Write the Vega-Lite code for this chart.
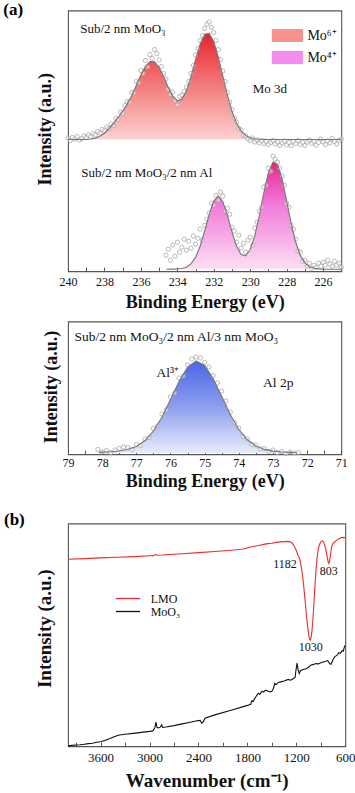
{
  "$schema": "https://vega.github.io/schema/vega-lite/v6.json",
  "autosize": {"type": "pad"},
  "padding": {"left": 2, "top": 0.5, "right": 0, "bottom": 0},
  "config": {
    "font": "Liberation Serif",
    "view": {"stroke": "#555555", "strokeWidth": 1.1},
    "axis": {"grid": false, "domain": false, "tickColor": "#555555", "labelColor": "#111111", "titleColor": "#111111", "labelFont": "Liberation Serif", "titleFont": "Liberation Serif", "titleFontWeight": "bold", "labelOverlap": false, "labelFlush": false},
    "legend": {"labelFont": "Liberation Serif", "labelColor": "#111111"}
  },
  "datasets": {
    "moTop": [
      {"be":240,"v":0},{"be":239,"v":0},{"be":238.75,"v":0.5},{"be":238.5,"v":1.4},{"be":238.25,"v":3.2},{"be":238,"v":6.3},{"be":237.75,"v":10.8},{"be":237.5,"v":16.2},{"be":237.25,"v":22.2},{"be":237,"v":28.2},{"be":236.75,"v":35.4},{"be":236.5,"v":43.9},{"be":236.25,"v":54.0},{"be":236,"v":64.5},{"be":235.75,"v":73.1},{"be":235.5,"v":77.9},{"be":235.25,"v":77.6},{"be":235,"v":72.2},{"be":234.75,"v":62.9},{"be":234.5,"v":52.3},{"be":234.25,"v":43.4},{"be":234,"v":38.7},{"be":233.75,"v":40.3},{"be":233.5,"v":48.7},{"be":233.25,"v":62.8},{"be":233,"v":79.8},{"be":232.75,"v":95.4},{"be":232.5,"v":105.2},{"be":232.25,"v":106.2},{"be":232,"v":97.9},{"be":231.75,"v":82.3},{"be":231.5,"v":63.1},{"be":231.25,"v":44.1},{"be":231,"v":28.1},{"be":230.75,"v":16.3},{"be":230.5,"v":8.6},{"be":230.25,"v":4.1},{"be":230,"v":1.8},{"be":229.75,"v":0.7},{"be":229.5,"v":0.3},{"be":229.25,"v":0.1},{"be":229,"v":0},{"be":225,"v":0}
    ],
    "moTopPts": [
      {"be":240,"v":1.5},{"be":239.875,"v":-1},{"be":239.75,"v":2},{"be":239.625,"v":0.5},{"be":239.5,"v":3},{"be":239.375,"v":-0.5},{"be":239.25,"v":1},{"be":239.125,"v":3.5},{"be":239,"v":2},{"be":238.875,"v":4.5},{"be":238.75,"v":3},{"be":238.625,"v":6},{"be":238.5,"v":4.5},{"be":238.375,"v":8},{"be":238.25,"v":6.5},{"be":238.125,"v":10},{"be":238,"v":9},{"be":237.875,"v":12.5},{"be":237.75,"v":11},{"be":237.625,"v":15.5},{"be":237.5,"v":14},{"be":237.375,"v":21},{"be":237.25,"v":20},{"be":237.125,"v":27.5},{"be":237,"v":26},{"be":236.875,"v":34},{"be":236.75,"v":38},{"be":236.625,"v":37.5},{"be":236.5,"v":47},{"be":236.375,"v":46.5},{"be":236.25,"v":58},{"be":236.125,"v":57},{"be":236,"v":69},{"be":235.875,"v":66},{"be":235.75,"v":79},{"be":235.625,"v":72.5},{"be":235.5,"v":85},{"be":235.375,"v":81},{"be":235.25,"v":90},{"be":235.125,"v":86},{"be":235,"v":79.5},{"be":234.875,"v":73},{"be":234.75,"v":66},{"be":234.625,"v":60.5},{"be":234.5,"v":50},{"be":234.375,"v":45},{"be":234.25,"v":47.5},{"be":234.125,"v":39},{"be":234,"v":34.5},{"be":233.875,"v":43},{"be":233.75,"v":44.5},{"be":233.625,"v":48},{"be":233.5,"v":52.5},{"be":233.375,"v":58},{"be":233.25,"v":66},{"be":233.125,"v":74},{"be":233,"v":84.5},{"be":232.875,"v":91},{"be":232.75,"v":99},{"be":232.625,"v":104},{"be":232.5,"v":111},{"be":232.375,"v":115.5},{"be":232.25,"v":117.5},{"be":232.125,"v":112},{"be":232,"v":107},{"be":231.875,"v":99},{"be":231.75,"v":90},{"be":231.625,"v":80},{"be":231.5,"v":68.5},{"be":231.375,"v":58},{"be":231.25,"v":47},{"be":231.125,"v":37.5},{"be":231,"v":30},{"be":230.875,"v":21.5},{"be":230.75,"v":17.5},{"be":230.625,"v":11},{"be":230.5,"v":9.5},{"be":230.375,"v":4},{"be":230.25,"v":3.5},{"be":230.125,"v":0.5},{"be":230,"v":-1},{"be":229.875,"v":1.5},{"be":229.75,"v":-2.5},{"be":229.625,"v":-0.5},{"be":229.5,"v":-3.5},{"be":229.375,"v":-1.5},{"be":229.25,"v":-4},{"be":229.125,"v":-2},{"be":229,"v":-5},{"be":228.875,"v":-3},{"be":228.75,"v":-1},{"be":228.625,"v":-4.5},{"be":228.5,"v":-2.5},{"be":228.375,"v":-6},{"be":228.25,"v":-3.5},{"be":228.125,"v":-1.5},{"be":228,"v":-5.5},{"be":227.875,"v":-3},{"be":227.75,"v":-6.5},{"be":227.625,"v":-2},{"be":227.5,"v":-4},{"be":227.375,"v":-1},{"be":227.25,"v":-5},{"be":227.125,"v":-3},{"be":227,"v":-6},{"be":226.875,"v":-2.5},{"be":226.75,"v":-0.5},{"be":226.625,"v":-4},{"be":226.5,"v":-2},{"be":226.375,"v":-5.5},{"be":226.25,"v":-3},{"be":226.125,"v":0.5},{"be":226,"v":-2.5},{"be":225.875,"v":-5},{"be":225.75,"v":-1.5},{"be":225.625,"v":-3.5},{"be":225.5,"v":1},{"be":225.375,"v":-2},{"be":225.25,"v":-4.5},{"be":225.125,"v":-1},{"be":225,"v":0.5}
    ],
    "moBot": [
      {"be":234.6,"v":0},{"be":234.25,"v":0.1},{"be":234,"v":0.2},{"be":233.75,"v":0.7},{"be":233.5,"v":2.0},{"be":233.25,"v":5.3},{"be":233,"v":11.8},{"be":232.75,"v":22.9},{"be":232.5,"v":38.2},{"be":232.25,"v":54.9},{"be":232,"v":68.2},{"be":231.75,"v":73.0},{"be":231.5,"v":67.4},{"be":231.25,"v":53.8},{"be":231,"v":37.3},{"be":230.75,"v":23.1},{"be":230.5,"v":14.7},{"be":230.25,"v":13.4},{"be":230,"v":19.7},{"be":229.75,"v":33.4},{"be":229.5,"v":53.7},{"be":229.25,"v":76.6},{"be":229,"v":96.6},{"be":228.75,"v":107.3},{"be":228.5,"v":104.9},{"be":228.25,"v":90.2},{"be":228,"v":68.3},{"be":227.75,"v":45.5},{"be":227.5,"v":26.7},{"be":227.25,"v":13.8},{"be":227,"v":6.3},{"be":226.75,"v":2.5},{"be":226.5,"v":0.9},{"be":226.25,"v":0.3},{"be":226,"v":0.1},{"be":225,"v":0}
    ],
    "moBotPts": [
      {"be":234.625,"v":14},{"be":234.5,"v":20},{"be":234.375,"v":9},{"be":234.25,"v":24},{"be":234.125,"v":13},{"be":234,"v":27},{"be":233.875,"v":17},{"be":233.75,"v":22},{"be":233.625,"v":30},{"be":233.5,"v":19},{"be":233.375,"v":28},{"be":233.25,"v":21},{"be":233.125,"v":33},{"be":233,"v":25},{"be":232.875,"v":31},{"be":232.75,"v":40},{"be":232.625,"v":29},{"be":232.5,"v":44},{"be":232.375,"v":50},{"be":232.25,"v":56},{"be":232.125,"v":66},{"be":232,"v":64},{"be":231.875,"v":74},{"be":231.75,"v":69},{"be":231.625,"v":77},{"be":231.5,"v":73},{"be":231.375,"v":58},{"be":231.25,"v":61},{"be":231.125,"v":55},{"be":231,"v":42},{"be":230.875,"v":38},{"be":230.75,"v":27},{"be":230.625,"v":34},{"be":230.5,"v":21},{"be":230.375,"v":26},{"be":230.25,"v":17},{"be":230.125,"v":29},{"be":230,"v":32},{"be":229.875,"v":24},{"be":229.75,"v":41},{"be":229.625,"v":47},{"be":229.5,"v":58},{"be":229.375,"v":62},{"be":229.25,"v":82},{"be":229.125,"v":84},{"be":229,"v":101},{"be":228.875,"v":98},{"be":228.75,"v":113},{"be":228.625,"v":110},{"be":228.5,"v":107},{"be":228.375,"v":101},{"be":228.25,"v":93},{"be":228.125,"v":84},{"be":228,"v":66},{"be":227.875,"v":62},{"be":227.75,"v":44},{"be":227.625,"v":40},{"be":227.5,"v":30},{"be":227.375,"v":18},{"be":227.25,"v":17},{"be":227.125,"v":8},{"be":227,"v":9},{"be":226.875,"v":3},{"be":226.75,"v":6},{"be":226.625,"v":1},{"be":226.5,"v":4},{"be":226.375,"v":2},{"be":226.25,"v":6},{"be":226.125,"v":3},{"be":226,"v":7},{"be":225.875,"v":4},{"be":225.75,"v":9},{"be":225.625,"v":5},{"be":225.5,"v":3},{"be":225.375,"v":8},{"be":225.25,"v":4},{"be":225.125,"v":6},{"be":225,"v":2}
    ],
    "moTopTxt": [
      {"be":239.33,"v":110.3,"label":"Sub/2 nm MoO₃"},
      {"be":229.86,"v":50.3,"label":"Mo 3d"}
    ],
    "moBotTxt": [
      {"be":239.27,"v":96.3,"label":"Sub/2 nm MoO₃/2 nm Al"}
    ],
    "panelA": [
      {"be":243.55,"v":254,"label":"(a)"}
    ],
    "yTitleA": [
      {"be":241.19,"v":140,"label":"Intensity (a.u.)"}
    ],
    "moLegend": [
      {"comp":"Mo⁶⁺"},{"comp":"Mo⁴⁺"}
    ],
    "al": [
      {"be":78.1,"v":0.6},{"be":77.75,"v":1.2},{"be":77.5,"v":2.0},{"be":77.25,"v":3.5},{"be":77,"v":6.5},{"be":76.75,"v":12.2},{"be":76.5,"v":21.8},{"be":76.25,"v":35.8},{"be":76,"v":53.4},{"be":75.75,"v":71.6},{"be":75.5,"v":85.8},{"be":75.25,"v":92},{"be":75,"v":87.5},{"be":74.75,"v":74.3},{"be":74.5,"v":56.5},{"be":74.25,"v":38.4},{"be":74,"v":23.5},{"be":73.75,"v":13.2},{"be":73.5,"v":7},{"be":73.25,"v":3.6},{"be":73,"v":1.9},{"be":72.75,"v":1},{"be":72.5,"v":0.6},{"be":72.3,"v":0.3}
    ],
    "alPts": [
      {"be":78.125,"v":3.5},{"be":78,"v":1},{"be":77.875,"v":2.5},{"be":77.75,"v":0.5},{"be":77.625,"v":3},{"be":77.5,"v":4.5},{"be":77.375,"v":6},{"be":77.25,"v":5.5},{"be":77.125,"v":3.5},{"be":77,"v":8.5},{"be":76.875,"v":7.5},{"be":76.75,"v":14},{"be":76.625,"v":15.5},{"be":76.5,"v":24.5},{"be":76.375,"v":27},{"be":76.25,"v":39},{"be":76.125,"v":43},{"be":76,"v":56},{"be":75.875,"v":60},{"be":75.75,"v":75},{"be":75.625,"v":77},{"be":75.5,"v":88},{"be":75.375,"v":94},{"be":75.25,"v":96},{"be":75.125,"v":95},{"be":75,"v":90.5},{"be":74.875,"v":86},{"be":74.75,"v":77.5},{"be":74.625,"v":70},{"be":74.5,"v":62},{"be":74.375,"v":52},{"be":74.25,"v":41},{"be":74.125,"v":30.5},{"be":74,"v":25},{"be":73.875,"v":16.5},{"be":73.75,"v":14},{"be":73.625,"v":8.5},{"be":73.5,"v":8},{"be":73.375,"v":4},{"be":73.25,"v":4.5},{"be":73.125,"v":1.5},{"be":73,"v":3},{"be":72.875,"v":0.5},{"be":72.75,"v":1.5},{"be":72.625,"v":-0.5},{"be":72.5,"v":1},{"be":72.375,"v":0},{"be":72.25,"v":0.5}
    ],
    "alTxt": [
      {"be":78.81,"v":116.5,"label":"Sub/2 nm MoO₃/2 nm Al/3 nm MoO₃"},
      {"be":76.41,"v":80.5,"label":"Al³⁺"},
      {"be":73.29,"v":69.8,"label":"Al 2p"}
    ],
    "yTitleAl": [
      {"be":79.46,"v":66,"label":"Intensity (a.u.)"}
    ],
    "ftir": [
      {"series":"LMO","wn":4000,"val":187.0},{"series":"LMO","wn":3800,"val":187.6},{"series":"LMO","wn":3600,"val":188.3},{"series":"LMO","wn":3400,"val":189.0},{"series":"LMO","wn":3200,"val":189.6},{"series":"LMO","wn":3000,"val":190.4},{"series":"LMO","wn":2950,"val":190.6},{"series":"LMO","wn":2925,"val":191.8},{"series":"LMO","wn":2910,"val":191.0},{"series":"LMO","wn":2850,"val":191.2},{"series":"LMO","wn":2600,"val":192.5},{"series":"LMO","wn":2400,"val":193.6},{"series":"LMO","wn":2200,"val":194.7},{"series":"LMO","wn":2000,"val":196.0},{"series":"LMO","wn":1850,"val":197.2},{"series":"LMO","wn":1760,"val":199.2},{"series":"LMO","wn":1700,"val":200.2},{"series":"LMO","wn":1650,"val":201.0},{"series":"LMO","wn":1600,"val":201.8},{"series":"LMO","wn":1550,"val":202.6},{"series":"LMO","wn":1500,"val":203.0},{"series":"LMO","wn":1450,"val":203.8},{"series":"LMO","wn":1400,"val":204.3},{"series":"LMO","wn":1350,"val":204.6},{"series":"LMO","wn":1300,"val":204.8},{"series":"LMO","wn":1270,"val":204.2},{"series":"LMO","wn":1250,"val":203.0},{"series":"LMO","wn":1230,"val":200.5},{"series":"LMO","wn":1210,"val":197.5},{"series":"LMO","wn":1195,"val":194.5},{"series":"LMO","wn":1182,"val":191.5},{"series":"LMO","wn":1170,"val":189.5},{"series":"LMO","wn":1160,"val":187.0},{"series":"LMO","wn":1150,"val":184.0},{"series":"LMO","wn":1135,"val":177.0},{"series":"LMO","wn":1120,"val":168.0},{"series":"LMO","wn":1105,"val":156.0},{"series":"LMO","wn":1090,"val":143.0},{"series":"LMO","wn":1075,"val":130.0},{"series":"LMO","wn":1060,"val":118.0},{"series":"LMO","wn":1045,"val":109.5},{"series":"LMO","wn":1035,"val":106.5},{"series":"LMO","wn":1030,"val":106.0},{"series":"LMO","wn":1022,"val":107.5},{"series":"LMO","wn":1010,"val":114.0},{"series":"LMO","wn":1000,"val":124.0},{"series":"LMO","wn":990,"val":136.0},{"series":"LMO","wn":980,"val":150.0},{"series":"LMO","wn":970,"val":163.0},{"series":"LMO","wn":960,"val":175.0},{"series":"LMO","wn":950,"val":185.0},{"series":"LMO","wn":940,"val":192.5},{"series":"LMO","wn":925,"val":199.5},{"series":"LMO","wn":910,"val":203.0},{"series":"LMO","wn":895,"val":204.8},{"series":"LMO","wn":880,"val":205.3},{"series":"LMO","wn":865,"val":204.0},{"series":"LMO","wn":850,"val":200.5},{"series":"LMO","wn":835,"val":194.5},{"series":"LMO","wn":820,"val":188.5},{"series":"LMO","wn":810,"val":184.0},{"series":"LMO","wn":803,"val":182.8},{"series":"LMO","wn":795,"val":184.5},{"series":"LMO","wn":785,"val":189.5},{"series":"LMO","wn":775,"val":195.5},{"series":"LMO","wn":765,"val":200.0},{"series":"LMO","wn":750,"val":202.8},{"series":"LMO","wn":735,"val":204.0},{"series":"LMO","wn":715,"val":205.3},{"series":"LMO","wn":690,"val":206.8},{"series":"LMO","wn":670,"val":207.8},{"series":"LMO","wn":650,"val":208.6},{"series":"LMO","wn":630,"val":208.8},{"series":"LMO","wn":615,"val":208.6},{"series":"LMO","wn":600,"val":208.4},
      {"series":"MoO₃","wn":4000,"val":0.3},{"series":"MoO₃","wn":3950,"val":0.8},{"series":"MoO₃","wn":3900,"val":1.2},{"series":"MoO₃","wn":3850,"val":1.4},{"series":"MoO₃","wn":3800,"val":2.0},{"series":"MoO₃","wn":3750,"val":2.6},{"series":"MoO₃","wn":3700,"val":3.0},{"series":"MoO₃","wn":3650,"val":3.9},{"series":"MoO₃","wn":3600,"val":4.5},{"series":"MoO₃","wn":3550,"val":5.8},{"series":"MoO₃","wn":3500,"val":7.2},{"series":"MoO₃","wn":3450,"val":8.9},{"series":"MoO₃","wn":3400,"val":10.4},{"series":"MoO₃","wn":3370,"val":11.2},{"series":"MoO₃","wn":3300,"val":11.9},{"series":"MoO₃","wn":3200,"val":12.8},{"series":"MoO₃","wn":3100,"val":13.8},{"series":"MoO₃","wn":3000,"val":14.8},{"series":"MoO₃","wn":2960,"val":15.3},{"series":"MoO₃","wn":2935,"val":18.5},{"series":"MoO₃","wn":2922,"val":24.0},{"series":"MoO₃","wn":2910,"val":19.0},{"series":"MoO₃","wn":2895,"val":18.2},{"series":"MoO₃","wn":2870,"val":18.8},{"series":"MoO₃","wn":2852,"val":21.5},{"series":"MoO₃","wn":2840,"val":18.9},{"series":"MoO₃","wn":2800,"val":19.2},{"series":"MoO₃","wn":2700,"val":20.6},{"series":"MoO₃","wn":2600,"val":22.3},{"series":"MoO₃","wn":2500,"val":24.0},{"series":"MoO₃","wn":2420,"val":25.5},{"series":"MoO₃","wn":2380,"val":25.8},{"series":"MoO₃","wn":2360,"val":23.0},{"series":"MoO₃","wn":2340,"val":24.6},{"series":"MoO₃","wn":2320,"val":28.0},{"series":"MoO₃","wn":2200,"val":31.3},{"series":"MoO₃","wn":2000,"val":36.0},{"series":"MoO₃","wn":1800,"val":40.8},{"series":"MoO₃","wn":1760,"val":42.0},{"series":"MoO₃","wn":1745,"val":45.5},{"series":"MoO₃","wn":1730,"val":44.8},{"series":"MoO₃","wn":1700,"val":49.0},{"series":"MoO₃","wn":1680,"val":51.5},{"series":"MoO₃","wn":1665,"val":53.0},{"series":"MoO₃","wn":1650,"val":51.8},{"series":"MoO₃","wn":1620,"val":55.0},{"series":"MoO₃","wn":1600,"val":54.2},{"series":"MoO₃","wn":1580,"val":56.0},{"series":"MoO₃","wn":1550,"val":55.2},{"series":"MoO₃","wn":1520,"val":54.3},{"series":"MoO₃","wn":1500,"val":54.8},{"series":"MoO₃","wn":1480,"val":58.0},{"series":"MoO₃","wn":1465,"val":62.8},{"series":"MoO₃","wn":1450,"val":61.5},{"series":"MoO₃","wn":1420,"val":63.8},{"series":"MoO₃","wn":1380,"val":64.6},{"series":"MoO₃","wn":1350,"val":65.2},{"series":"MoO₃","wn":1300,"val":66.8},{"series":"MoO₃","wn":1270,"val":66.0},{"series":"MoO₃","wn":1240,"val":67.5},{"series":"MoO₃","wn":1215,"val":69.0},{"series":"MoO₃","wn":1205,"val":76.0},{"series":"MoO₃","wn":1192,"val":83.0},{"series":"MoO₃","wn":1180,"val":76.5},{"series":"MoO₃","wn":1165,"val":72.8},{"series":"MoO₃","wn":1150,"val":75.5},{"series":"MoO₃","wn":1120,"val":76.8},{"series":"MoO₃","wn":1080,"val":77.5},{"series":"MoO₃","wn":1050,"val":79.0},{"series":"MoO₃","wn":1020,"val":81.3},{"series":"MoO₃","wn":990,"val":81.8},{"series":"MoO₃","wn":960,"val":82.6},{"series":"MoO₃","wn":930,"val":82.3},{"series":"MoO₃","wn":900,"val":83.4},{"series":"MoO₃","wn":870,"val":84.2},{"series":"MoO₃","wn":840,"val":84.9},{"series":"MoO₃","wn":815,"val":85.6},{"series":"MoO₃","wn":790,"val":82.5},{"series":"MoO₃","wn":775,"val":82.0},{"series":"MoO₃","wn":760,"val":85.0},{"series":"MoO₃","wn":745,"val":87.5},{"series":"MoO₃","wn":727,"val":89.6},{"series":"MoO₃","wn":700,"val":91.0},{"series":"MoO₃","wn":680,"val":93.5},{"series":"MoO₃","wn":660,"val":92.8},{"series":"MoO₃","wn":640,"val":95.5},{"series":"MoO₃","wn":625,"val":95.0},{"series":"MoO₃","wn":612,"val":99.0},{"series":"MoO₃","wn":600,"val":101.0}
    ],
    "ftirTxtR": [
      {"wn":1196,"val":182.7,"label":"1182"}
    ],
    "ftirTxtC": [
      {"wn":803,"val":175.3,"label":"803"},
      {"wn":1025,"val":99.3,"label":"1030"}
    ],
    "panelB": [
      {"wn":4784.7,"val":221.7,"label":"(b)"}
    ],
    "yTitleB": [
      {"wn":4282,"val":117.5,"label":"Intensity (a.u.)"}
    ]
  },
  "spacing": 18,
  "resolve": {"legend": {"color": "independent", "fill": "independent"}},
  "vconcat": [
    {
      "spacing": 8,
      "resolve": {"legend": {"color": "independent", "fill": "independent"}},
      "vconcat": [
        {
          "width": 273.3,
          "height": 260.7,
          "resolve": {"axis": {"x": "independent"}},
          "layer": [
            {
              "data": {"name": "moTop"},
              "mark": {"type": "area", "yOffset": -129.7, "y2Offset": -129.7, "color": {"gradient": "linear", "x1": 0, "y1": 0, "x2": 0, "y2": 1, "stops": [{"offset": 0, "color": "#e6232b"}, {"offset": 0.45, "color": "#f27474"}, {"offset": 1, "color": "#fdd2d2"}]}},
              "encoding": {
                "x": {"field": "be", "type": "quantitative", "scale": {"domain": [225, 240], "reverse": true, "nice": false}, "axis": {"orient": "bottom", "title": "Binding Energy (eV)", "values": [226,228,230,232,234,236,238,240], "tickSize": -4, "labelPadding": 9.3, "labelFontSize": 12, "titleFontSize": 18, "titlePadding": 5.7, "labelOverlap": false, "labelFlush": false}},
                "y": {"field": "v", "type": "quantitative", "scale": {"domain": [-2, 258.7], "nice": false}, "axis": null},
                "y2": {"datum": 0}
              }
            },
            {
              "data": {"name": "moTopPts"},
              "mark": {"type": "point", "yOffset": -129.7, "shape": "circle", "filled": true, "fill": "#ffffff", "fillOpacity": 0.45, "stroke": "#a8a8a8", "strokeWidth": 0.8, "size": 18, "opacity": 1},
              "encoding": {
                "x": {"field": "be", "type": "quantitative", "scale": {"domain": [225, 240], "reverse": true, "nice": false}, "axis": null},
                "y": {"field": "v", "type": "quantitative", "scale": {"domain": [-2, 258.7], "nice": false}, "axis": null}
              }
            },
            {
              "data": {"name": "moTop"},
              "mark": {"type": "line", "yOffset": -129.7, "color": "#777777", "strokeWidth": 1.1},
              "encoding": {
                "x": {"field": "be", "type": "quantitative", "scale": {"domain": [225, 240], "reverse": true, "nice": false}, "axis": null},
                "y": {"field": "v", "type": "quantitative", "scale": {"domain": [-2, 258.7], "nice": false}, "axis": null}
              }
            },
            {
              "data": {"name": "moTopTxt"},
              "mark": {"type": "text", "yOffset": -129.7, "align": "left", "baseline": "middle", "fontSize": 13, "color": "#111111"},
              "encoding": {
                "x": {"field": "be", "type": "quantitative", "scale": {"domain": [225, 240], "reverse": true, "nice": false}, "axis": null},
                "y": {"field": "v", "type": "quantitative", "scale": {"domain": [-2, 258.7], "nice": false}, "axis": null},
                "text": {"field": "label"}
              }
            },
            {
              "data": {"name": "moBot"},
              "mark": {"type": "area", "color": {"gradient": "linear", "x1": 0, "y1": 0, "x2": 0, "y2": 1, "stops": [{"offset": 0, "color": "#e6245a"}, {"offset": 0.12, "color": "#ea3fa8"}, {"offset": 0.38, "color": "#f177d6"}, {"offset": 0.7, "color": "#f7ade8"}, {"offset": 1, "color": "#fde0f4"}]}},
              "encoding": {
                "x": {"field": "be", "type": "quantitative", "scale": {"domain": [225, 240], "reverse": true, "nice": false}, "axis": {"orient": "bottom", "title": null, "values": [225,227,229,231,233,235,237,239], "labels": false, "tickSize": -4}},
                "y": {"field": "v", "type": "quantitative", "scale": {"domain": [-2, 258.7], "nice": false}, "axis": null},
                "y2": {"datum": 0}
              }
            },
            {
              "data": {"name": "moBotPts"},
              "mark": {"type": "point", "shape": "circle", "filled": true, "fill": "#ffffff", "fillOpacity": 0.45, "stroke": "#a8a8a8", "strokeWidth": 0.8, "size": 18, "opacity": 1},
              "encoding": {
                "x": {"field": "be", "type": "quantitative", "scale": {"domain": [225, 240], "reverse": true, "nice": false}, "axis": null},
                "y": {"field": "v", "type": "quantitative", "scale": {"domain": [-2, 258.7], "nice": false}, "axis": null}
              }
            },
            {
              "data": {"name": "moBot"},
              "mark": {"type": "line", "color": "#777777", "strokeWidth": 1.1},
              "encoding": {
                "x": {"field": "be", "type": "quantitative", "scale": {"domain": [225, 240], "reverse": true, "nice": false}, "axis": null},
                "y": {"field": "v", "type": "quantitative", "scale": {"domain": [-2, 258.7], "nice": false}, "axis": null}
              }
            },
            {
              "data": {"name": "moBotTxt"},
              "mark": {"type": "text", "align": "left", "baseline": "middle", "fontSize": 13, "color": "#111111"},
              "encoding": {
                "x": {"field": "be", "type": "quantitative", "scale": {"domain": [225, 240], "reverse": true, "nice": false}, "axis": null},
                "y": {"field": "v", "type": "quantitative", "scale": {"domain": [-2, 258.7], "nice": false}, "axis": null},
                "text": {"field": "label"}
              }
            },
            {
              "data": {"name": "panelA"},
              "mark": {"type": "text", "align": "left", "baseline": "alphabetic", "fontSize": 17, "fontWeight": "bold", "color": "#000000"},
              "encoding": {
                "x": {"field": "be", "type": "quantitative", "scale": {"domain": [225, 240], "reverse": true, "nice": false}, "axis": null},
                "y": {"field": "v", "type": "quantitative", "scale": {"domain": [-2, 258.7], "nice": false}, "axis": null},
                "text": {"field": "label"}
              }
            },
            {
              "data": {"name": "yTitleA"},
              "mark": {"type": "text", "angle": 270, "align": "center", "baseline": "middle", "fontSize": 18, "fontWeight": "bold", "color": "#111111"},
              "encoding": {
                "x": {"field": "be", "type": "quantitative", "scale": {"domain": [225, 240], "reverse": true, "nice": false}, "axis": null},
                "y": {"field": "v", "type": "quantitative", "scale": {"domain": [-2, 258.7], "nice": false}, "axis": null},
                "text": {"field": "label"}
              }
            },
            {
              "data": {"name": "moLegend"},
              "mark": {"type": "point", "filled": true, "opacity": 0, "size": 1},
              "encoding": {
                "fill": {"field": "comp", "type": "nominal", "scale": {"domain": ["Mo⁶⁺", "Mo⁴⁺"], "range": ["#f8918e", "#f48cf0"]}, "legend": {"title": null, "orient": "none", "legendX": 212.4, "legendY": 18, "labelFontSize": 14, "labelOffset": 13, "rowPadding": 8, "symbolSize": 169, "symbolType": "M-2.4,-1H2.4V1H-2.4Z", "symbolStrokeWidth": 0, "symbolOpacity": 1, "padding": 0}}
              }
            }
          ]
        },
        {
          "width": 273.3,
          "height": 132.7,
          "resolve": {"axis": {"x": "independent"}},
          "layer": [
            {
              "data": {"name": "al"},
              "mark": {"type": "area", "color": {"gradient": "linear", "x1": 0, "y1": 0, "x2": 0, "y2": 1, "stops": [{"offset": 0, "color": "#4a66e6"}, {"offset": 0.5, "color": "#8d9fee"}, {"offset": 1, "color": "#e8ecfb"}]}},
              "encoding": {
                "x": {"field": "be", "type": "quantitative", "scale": {"domain": [71, 79], "reverse": true, "nice": false}, "axis": {"orient": "bottom", "title": "Binding Energy (eV)", "values": [71,72,73,74,75,76,77,78,79], "tickSize": -4, "labelPadding": 7.6, "labelFontSize": 12, "titleFontSize": 18, "titlePadding": 3.4, "labelOverlap": false, "labelFlush": false}},
                "y": {"field": "v", "type": "quantitative", "scale": {"domain": [-1.2, 131.5], "nice": false}, "axis": null},
                "y2": {"datum": 0}
              }
            },
            {
              "data": {"name": "alPts"},
              "mark": {"type": "point", "shape": "circle", "filled": true, "fill": "#ffffff", "fillOpacity": 0.45, "stroke": "#a8a8a8", "strokeWidth": 0.8, "size": 18, "opacity": 1},
              "encoding": {
                "x": {"field": "be", "type": "quantitative", "scale": {"domain": [71, 79], "reverse": true, "nice": false}, "axis": {"orient": "bottom", "title": null, "values": [71.5,72.5,73.5,74.5,75.5,76.5,77.5,78.5], "labels": false, "tickSize": -4}},
                "y": {"field": "v", "type": "quantitative", "scale": {"domain": [-1.2, 131.5], "nice": false}, "axis": null}
              }
            },
            {
              "data": {"name": "al"},
              "mark": {"type": "line", "color": "#777777", "strokeWidth": 1.1},
              "encoding": {
                "x": {"field": "be", "type": "quantitative", "scale": {"domain": [71, 79], "reverse": true, "nice": false}, "axis": null},
                "y": {"field": "v", "type": "quantitative", "scale": {"domain": [-1.2, 131.5], "nice": false}, "axis": null}
              }
            },
            {
              "data": {"name": "alTxt"},
              "mark": {"type": "text", "align": "left", "baseline": "middle", "fontSize": 13.5, "color": "#111111"},
              "encoding": {
                "x": {"field": "be", "type": "quantitative", "scale": {"domain": [71, 79], "reverse": true, "nice": false}, "axis": null},
                "y": {"field": "v", "type": "quantitative", "scale": {"domain": [-1.2, 131.5], "nice": false}, "axis": null},
                "text": {"field": "label"}
              }
            },
            {
              "data": {"name": "yTitleAl"},
              "mark": {"type": "text", "angle": 270, "align": "center", "baseline": "middle", "fontSize": 18, "fontWeight": "bold", "color": "#111111"},
              "encoding": {
                "x": {"field": "be", "type": "quantitative", "scale": {"domain": [71, 79], "reverse": true, "nice": false}, "axis": null},
                "y": {"field": "v", "type": "quantitative", "scale": {"domain": [-1.2, 131.5], "nice": false}, "axis": null},
                "text": {"field": "label"}
              }
            }
          ]
        }
      ]
    },
    {
      "width": 277.3,
      "height": 222.7,
      "resolve": {"axis": {"x": "independent"}},
      "layer": [
        {
          "data": {"name": "ftir"},
          "mark": {"type": "line", "strokeWidth": 1.1},
          "encoding": {
            "x": {"field": "wn", "type": "quantitative", "scale": {"domain": [600, 4000], "reverse": true, "nice": false}, "axis": {"orient": "bottom", "title": "Wavenumber (cm⁻¹)", "values": [600,1200,1800,2400,3000,3600], "format": "d", "tickSize": -4, "labelPadding": 9.5, "labelFontSize": 13, "titleFontSize": 19, "titlePadding": 7, "labelOverlap": false, "labelFlush": false}},
            "y": {"field": "val", "type": "quantitative", "scale": {"domain": [0, 222.7], "nice": false}, "axis": null},
            "color": {"field": "series", "type": "nominal", "scale": {"domain": ["LMO", "MoO₃"], "range": ["#f02a2a", "#111111"]}, "legend": {"title": null, "orient": "none", "legendX": 53, "legendY": 68, "symbolType": "M-2,0H2", "symbolSize": 144, "symbolStrokeWidth": 1.3, "labelFontSize": 12, "labelOffset": 15.7, "rowPadding": -5, "padding": 0}}
          }
        },
        {
          "data": {"name": "ftirTxtR"},
          "mark": {"type": "text", "align": "right", "baseline": "middle", "fontSize": 12, "color": "#111111"},
          "encoding": {
            "x": {"field": "wn", "type": "quantitative", "scale": {"domain": [600, 4000], "reverse": true, "nice": false}, "axis": {"orient": "bottom", "title": null, "values": [900,1500,2100,2700,3300,3900], "labels": false, "tickSize": -4}},
            "y": {"field": "val", "type": "quantitative", "scale": {"domain": [0, 222.7], "nice": false}, "axis": null},
            "text": {"field": "label"}
          }
        },
        {
          "data": {"name": "ftirTxtC"},
          "mark": {"type": "text", "align": "center", "baseline": "middle", "fontSize": 12, "color": "#111111"},
          "encoding": {
            "x": {"field": "wn", "type": "quantitative", "scale": {"domain": [600, 4000], "reverse": true, "nice": false}, "axis": null},
            "y": {"field": "val", "type": "quantitative", "scale": {"domain": [0, 222.7], "nice": false}, "axis": null},
            "text": {"field": "label"}
          }
        },
        {
          "data": {"name": "panelB"},
          "mark": {"type": "text", "align": "left", "baseline": "alphabetic", "fontSize": 17, "fontWeight": "bold", "color": "#000000"},
          "encoding": {
            "x": {"field": "wn", "type": "quantitative", "scale": {"domain": [600, 4000], "reverse": true, "nice": false}, "axis": null},
            "y": {"field": "val", "type": "quantitative", "scale": {"domain": [0, 222.7], "nice": false}, "axis": null},
            "text": {"field": "label"}
          }
        },
        {
          "data": {"name": "yTitleB"},
          "mark": {"type": "text", "angle": 270, "align": "center", "baseline": "middle", "fontSize": 19, "fontWeight": "bold", "color": "#111111"},
          "encoding": {
            "x": {"field": "wn", "type": "quantitative", "scale": {"domain": [600, 4000], "reverse": true, "nice": false}, "axis": null},
            "y": {"field": "val", "type": "quantitative", "scale": {"domain": [0, 222.7], "nice": false}, "axis": null},
            "text": {"field": "label"}
          }
        }
      ]
    }
  ]
}
